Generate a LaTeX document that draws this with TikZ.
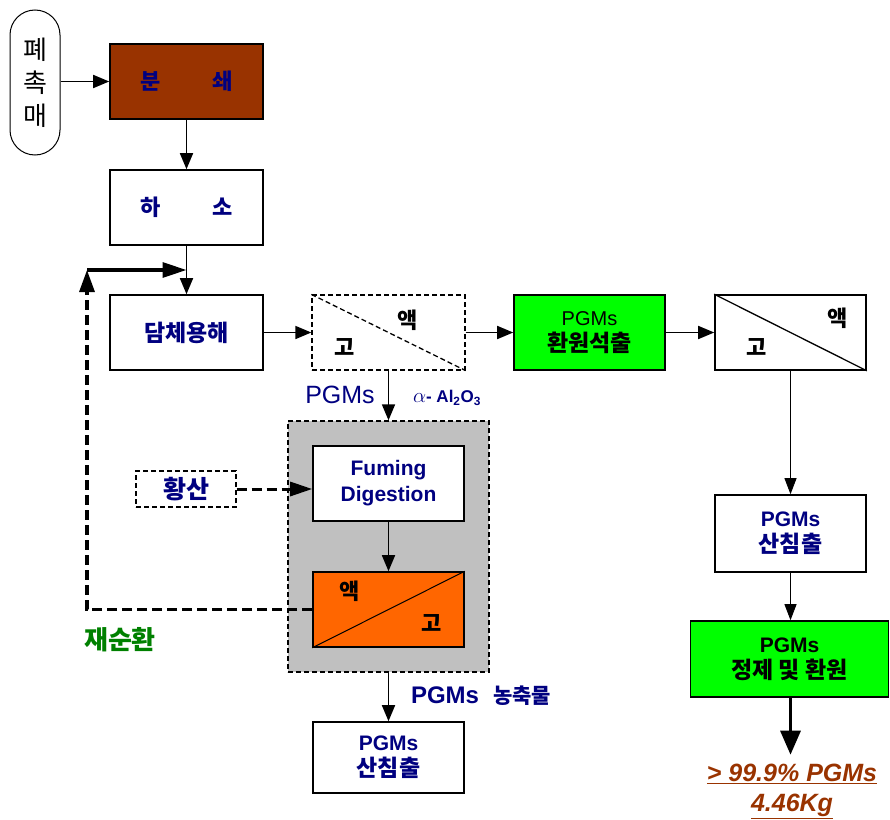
\documentclass[tikz,border=0pt]{standalone}
\usepackage{fontspec}
\setmainfont{Liberation Sans}
\newfontfamily\krfont{Noto Sans CJK KR}
\usepackage{xcolor}
\usepackage{tikz}
\usetikzlibrary{arrows.meta,calc,positioning}

\definecolor{navy}{RGB}{0,0,128}
\definecolor{rust}{RGB}{153,51,0}
\definecolor{lime}{RGB}{0,255,0}
\definecolor{hotorange}{RGB}{255,102,0}
\definecolor{panelgray}{RGB}{192,192,192}
\definecolor{recgreen}{RGB}{0,128,0}

\newcommand{\boxfont}{\fontsize{21}{26}\selectfont\bfseries}
\newcommand{\krbig}[1]{{\fontsize{23}{26}\selectfont\krfont #1}}

\tikzset{
  procbox/.style={draw, fill=white, line width=1.6pt, minimum width=153pt, minimum height=75pt, align=center, inner sep=2pt, text=navy, font=\boxfont},
  sepbox/.style={draw, line width=1.6pt, minimum width=153pt, minimum height=75pt, inner sep=0pt},
  seplbl/.style={font=\fontsize{22}{24}\selectfont\krfont\bfseries, inner sep=0pt},
  arr/.style={line width=1.7pt, -{Triangle[length=16pt,width=13pt]}},
  thinarr/.style={line width=0.9pt, -{Triangle[length=16pt,width=12pt]}},
  bigarr/.style={line width=3.2pt, -{Triangle[length=24pt,width=20pt]}},
  recyc/.style={line width=3.2pt, dash pattern=on 10pt off 5pt, -{Triangle[length=22pt,width=15pt]}}
}

\begin{document}
\begin{tikzpicture}[x=1pt,y=-1pt]
  \useasboundingbox (0,0) rectangle (890,819);

  % feed and pretreatment
  \node [draw, line width=1pt, rounded corners=25pt, minimum width=50pt, minimum height=145pt, align=center, inner sep=0pt, font=\fontsize{26}{33}\selectfont\krfont] at (35,82.5) (cat) {폐\\촉\\매};
  \node [procbox, fill=rust] at (186.5,81.5) (crush) {\fontsize{22}{26}\selectfont\krfont 분\hspace{52pt}쇄};
  \node [procbox] at (186.5,207.5) (calcine) {\fontsize{22}{26}\selectfont\krfont 하\hspace{52pt}소};
  \node [procbox] at (186.5,332.5) (dissolve) {\krbig{담체용해}};
  \draw [arr] (cat.east |- crush.west) to (crush.west);
  \draw [arr] (crush.south) to (calcine.north);
  \draw [arr] (calcine.south) to (dissolve.north);

  % first separation
  \node [sepbox, dashed, dash pattern=on 5pt off 3pt, line width=1.3pt] at (388.5,332.5) (sep1) {};
  \draw [dashed, dash pattern=on 5pt off 3pt, line width=1.3pt] (sep1.north west) to (sep1.south east);
  \node [seplbl] at (408,320) (sep1l) {액};
  \node [seplbl] at (345,347) (sep1s) {고};
  \draw [arr] (dissolve.east) to (sep1.west);

  % upper right branch
  \node [procbox, fill=lime, text=black, minimum width=151pt, font=\fontsize{20}{26}\selectfont] at (589.5,332.5) (reduce) {PGMs\\\krbig{\bfseries 환원석출}};
  \node [sepbox, minimum width=151pt] at (790.5,332.5) (sep2) {};
  \draw [line width=1.3pt] (sep2.north west) to (sep2.south east);
  \node [seplbl] at (838,318) (sep2l) {액};
  \node [seplbl] at (757,347) (sep2s) {고};
  \draw [arr] (sep1.east) to (reduce.west);
  \draw [arr] (reduce.east) to (sep2.west);

  \node [procbox, minimum width=151pt, minimum height=77pt] at (790.5,533.5) (leach2) {PGMs\\\krbig{산침출}};
  \node [procbox, fill=lime, text=black, minimum width=198pt, minimum height=76pt] at (789.5,659) (refine) {PGMs\\\krbig{정제 및 환원}};
  \node [align=center, text=rust, inner sep=0pt, outer sep=9pt, font=\fontsize{25}{30}\selectfont\bfseries\itshape] at (792,791) (result) {\underline{> 99.9\% PGMs}\\\underline{4.46Kg}};
  \draw [thinarr] (sep2.south -| leach2.north) to (leach2.north);
  \draw [thinarr] (leach2.south) to (leach2.south |- refine.north);
  \draw [bigarr] (refine.south -| leach2.south) to (leach2.south |- result.north);

  % fuming digestion stage
  \node [draw, dashed, dash pattern=on 5pt off 3pt, line width=1.3pt, fill=panelgray, minimum width=201pt, minimum height=251pt] at (388.5,546.5) (grp) {};
  \node [procbox, minimum width=151pt] at (388.5,483.5) (fuming) {Fuming\\Digestion};
  \node [sepbox, fill=hotorange, minimum width=151pt] at (388.5,609.5) (sep3) {};
  \draw [line width=1pt] (sep3.south west) to (sep3.north east);
  \node [seplbl] at (350,591) (sep3l) {액};
  \node [seplbl] at (432,623) (sep3s) {고};
  \node [draw, dashed, dash pattern=on 5pt off 3pt, line width=1.3pt, minimum width=100pt, minimum height=36pt, text=navy, font=\fontsize{25}{26}\selectfont\krfont\bfseries] at (186,489) (acid) {황산};
  \draw [arr] (sep1.south) to (grp.north);
  \draw [arr] (fuming.south) to (sep3.north);
  \draw [arr, line width=3pt, dash pattern=on 10pt off 5pt, -{Triangle[length=22pt,width=14pt]}] (acid.east) to (acid.east -| fuming.west);

  \node [text=navy, font=\fontsize{25}{26}\selectfont] at (340,395) (lblpgm) {PGMs};
  \node [text=navy, font=\fontsize{17}{20}\selectfont] at (447,398) (lblalu) {{\fontsize{22}{22}\selectfont$\alpha$}\textbf{- Al\textsubscript{2}O\textsubscript{3}}};

  % recovered concentrate
  \node [procbox, minimum width=151pt, minimum height=71pt] at (388.5,757.5) (leach1) {PGMs\\\krbig{산침출}};
  \node [text=navy, font=\bfseries] at (481,696) (lblconc) {{\fontsize{24}{26}\selectfont PGMs}\hspace{14pt}{\fontsize{21}{21}\selectfont\krfont 농축물}};
  \draw [arr] (grp.south) to (leach1.north);

  % recycle loop
  \coordinate (bend) at (87,270);
  \coordinate (join) at (calcine.south |- bend);
  \draw [recyc] (sep3.west) -| (bend);
  \draw [line width=3.2pt, -{Triangle[length=24pt,width=15pt]}] (bend) to (join);
  \node [text=recgreen, font=\fontsize{26}{28}\selectfont\krfont\bfseries] at (120,640) (lblrec) {재순환};
\end{tikzpicture}
\end{document}
